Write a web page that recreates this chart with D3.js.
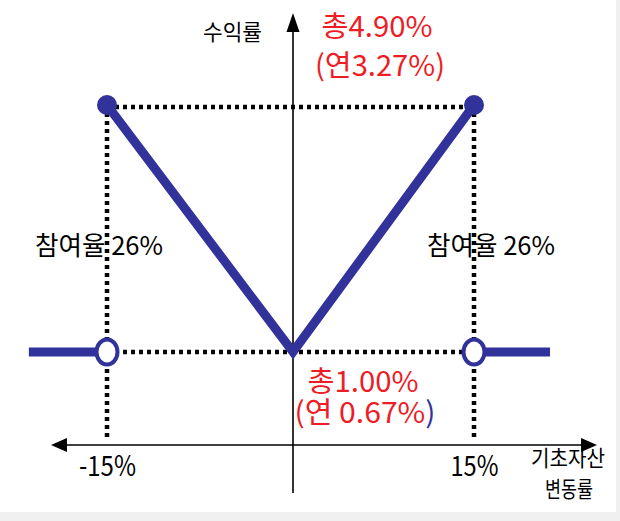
<!DOCTYPE html>
<html>
<head>
<meta charset="utf-8">
<script src="https://cdn.jsdelivr.net/npm/d3@7"></script>
<style>
  body { margin: 0; background: #f0f0f0; }
  #canvas { width: 620px; height: 521px; }
  text { font-family: "Noto Sans CJK KR", "Noto Sans", sans-serif; }
</style>
</head>
<body>
<div id="canvas"></div>
<script>
// payoff values (underlying change %, total return %)
let kinkX = [-15, 0, 15];
let kinkY = [4.90, 1.00, 4.90];
let flatLeftX = [-21.3, -15];
let flatRightX = [15, 21.3];
let floorY = 1.00;
let capY = 4.90;
let tickValues = [-15, 15];
let tickLabels = ['-15%', '15%'];
let capLabels = ['총4.90%', '(연3.27%)'];
let floorLabels = ['총1.00%', '(연 0.67%'];
let partLabel = '참여율 26%';

let navy = '#32339a';
let red = '#ee1c25';

let svg = d3.select('#canvas').append('svg')
  .attr('width', 620)
  .attr('height', 521);

svg.append('rect')
  .attr('width', 616)
  .attr('height', 512)
  .attr('fill', '#fff');

let x = d3.scaleLinear().domain([-15, 0, 15]).range([107, 293, 474]);
let y = d3.scaleLinear().domain([floorY, capY]).range([352, 105]);
let axisY = 445;

// axes
svg.append('line')
  .attr('x1', 60).attr('x2', 588)
  .attr('y1', axisY).attr('y2', axisY)
  .attr('stroke', '#000').attr('stroke-width', 1.6);
svg.append('line')
  .attr('x1', x(0)).attr('x2', x(0))
  .attr('y1', 25).attr('y2', 493)
  .attr('stroke', '#000').attr('stroke-width', 1.6);

svg.append('path')
  .attr('d', 'M51,' + axisY + 'L67,' + (axisY - 7) + 'L67,' + (axisY + 7) + 'Z')
  .attr('fill', '#000');
svg.append('path')
  .attr('d', 'M597,' + axisY + 'L581,' + (axisY - 7) + 'L581,' + (axisY + 7) + 'Z')
  .attr('fill', '#000');
svg.append('path')
  .attr('d', 'M' + x(0) + ',13L' + (x(0) - 6.5) + ',32L' + (x(0) + 6.5) + ',32Z')
  .attr('fill', '#000');

let xAxis = d3.axisBottom(x)
  .tickValues(tickValues)
  .tickSize(0)
  .tickPadding(10)
  .tickFormat(function(d, i) { return tickLabels[i]; });

let gx = svg.append('g')
  .attr('transform', 'translate(0,' + axisY + ')')
  .call(xAxis);
gx.select('.domain').remove();
gx.selectAll('text')
  .attr('dy', 0)
  .attr('y', 31)
  .attr('font-size', 28)
  .attr('fill', '#000')
  .attr('font-family', '"Noto Sans CJK KR", sans-serif')
  .attr('lengthAdjust', 'spacingAndGlyphs')
  .attr('textLength', function(d) { return d < 0 ? 57 : 48; });

// dotted guides
let dotted = svg.append('g')
  .attr('stroke', '#000')
  .attr('stroke-width', 4.5)
  .attr('stroke-dasharray', '4 4');

dotted.append('line')
  .attr('x1', x(kinkX[0])).attr('x2', x(kinkX[2]))
  .attr('y1', y(capY) + 2).attr('y2', y(capY) + 2);
dotted.append('line')
  .attr('x1', x(kinkX[0])).attr('x2', x(kinkX[2]))
  .attr('y1', y(floorY)).attr('y2', y(floorY));
dotted.selectAll('.vert')
  .data([kinkX[0], kinkX[2]])
  .enter()
  .append('line')
  .attr('x1', function(d) { return x(d); })
  .attr('x2', function(d) { return x(d); })
  .attr('y1', y(capY))
  .attr('y2', axisY - 8);

// payoff lines
let line = d3.line()
  .x(function(d) { return x(d[0]); })
  .y(function(d) { return y(d[1]); });

let segments = [
  flatLeftX.map(function(v) { return [v, floorY]; }),
  kinkX.map(function(v, i) { return [v, kinkY[i]]; }),
  flatRightX.map(function(v) { return [v, floorY]; })
];

svg.selectAll('.payoff')
  .data(segments)
  .enter()
  .append('path')
  .attr('d', line)
  .attr('fill', 'none')
  .attr('stroke', navy)
  .attr('stroke-width', 9);

svg.selectAll('.cap')
  .data([kinkX[0], kinkX[2]])
  .enter()
  .append('circle')
  .attr('cx', function(d) { return x(d); })
  .attr('cy', y(capY))
  .attr('r', 10)
  .attr('fill', navy);

svg.selectAll('.open')
  .data([flatLeftX[1], flatRightX[0]])
  .enter()
  .append('ellipse')
  .attr('cx', function(d) { return x(d); })
  .attr('cy', y(floorY))
  .attr('rx', 10.5)
  .attr('ry', 12.5)
  .attr('fill', '#fff')
  .attr('stroke', navy)
  .attr('stroke-width', 4);

// labels
svg.append('text')
  .attr('x', 203).attr('y', 40)
  .attr('font-size', 22)
  .attr('lengthAdjust', 'spacingAndGlyphs')
  .attr('textLength', 59)
  .text('수익률');

svg.selectAll('.caplab')
  .data(capLabels)
  .enter()
  .append('text')
  .attr('x', function(d, i) { return i === 0 ? 377 : 380; })
  .attr('y', function(d, i) { return i === 0 ? 37 : 76; })
  .attr('text-anchor', 'middle')
  .attr('font-size', 29)
  .attr('fill', red)
  .attr('lengthAdjust', 'spacingAndGlyphs')
  .attr('textLength', function(d, i) { return i === 0 ? 111 : 130; })
  .text(function(d) { return d; });

svg.append('text')
  .attr('x', 363).attr('y', 392)
  .attr('text-anchor', 'middle')
  .attr('font-size', 29)
  .attr('fill', red)
  .attr('lengthAdjust', 'spacingAndGlyphs')
  .attr('textLength', 111)
  .text(floorLabels[0]);

let fl = svg.append('text')
  .attr('x', 365).attr('y', 423)
  .attr('text-anchor', 'middle')
  .attr('font-size', 29)
  .attr('fill', red)
  .attr('lengthAdjust', 'spacingAndGlyphs')
  .attr('textLength', 141);
fl.append('tspan').text(floorLabels[1]);
fl.append('tspan').attr('fill', navy).text(')');

svg.selectAll('.part')
  .data([35, 427])
  .enter()
  .append('text')
  .attr('x', function(d) { return d; })
  .attr('y', 255)
  .attr('font-size', 26)
  .attr('lengthAdjust', 'spacingAndGlyphs')
  .attr('textLength', 128)
  .text(partLabel);

svg.append('text')
  .attr('x', 568).attr('y', 466)
  .attr('text-anchor', 'middle')
  .attr('font-size', 22)
  .attr('lengthAdjust', 'spacingAndGlyphs')
  .attr('textLength', 74)
  .text('기초자산');
svg.append('text')
  .attr('x', 569).attr('y', 497)
  .attr('text-anchor', 'middle')
  .attr('font-size', 22)
  .attr('lengthAdjust', 'spacingAndGlyphs')
  .attr('textLength', 48)
  .text('변동률');
</script>
</body>
</html>
